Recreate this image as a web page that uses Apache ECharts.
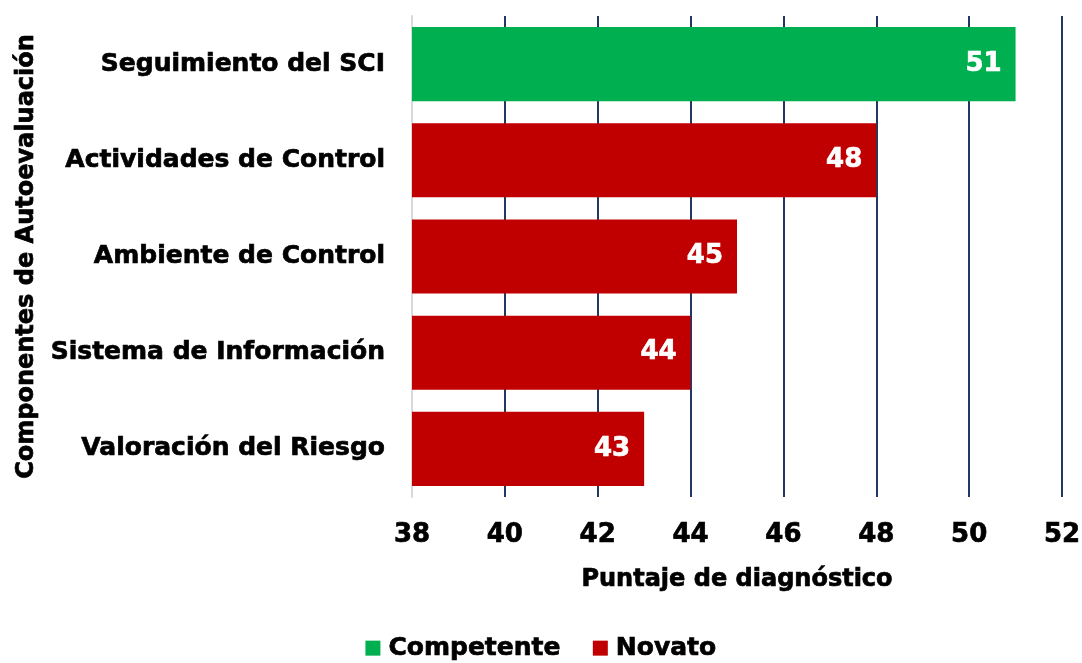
<!DOCTYPE html>
<html><head><meta charset="utf-8">
<script src="https://cdn.jsdelivr.net/npm/echarts@6/dist/echarts.min.js"></script>
<style>html,body{margin:0;padding:0;background:#fff}#c{width:1082px;height:663px}</style>
</head><body><div id="c"></div>
<script>
const categories = ["Seguimiento del SCI","Actividades de Control","Ambiente de Control","Sistema de Información","Valoración del Riesgo"];
const competente = [51, null, null, null, null];
const novato = [null, 48, 45, 44, 43];
const xTicks = [38,40,42,44,46,48,50,52];
const FONT = "DejaVu Sans";
const blk = {color:'#000', fontFamily:FONT, fontWeight:'bold', textBorderColor:'#000', textBorderWidth:0.7};
const chart = echarts.init(document.getElementById('c'));
const lbl = {show:true, position:'insideRight', color:'#fff', fontFamily:FONT, fontWeight:'bold', fontSize:26, distance:14, textBorderColor:'#fff', textBorderWidth:0.7};
chart.setOption({
  animation:false,
  textStyle:{fontFamily:FONT},
  grid:{left:412, right:20, top:16, bottom:166, containLabel:false, outerBoundsMode:'none'},
  xAxis:{type:'value', min:xTicks[0], max:xTicks[xTicks.length-1], interval:2,
    axisLine:{show:false}, axisTick:{show:false},
    axisLabel:Object.assign({fontSize:26, margin:25}, blk),
    splitLine:{show:true, lineStyle:{color:'#1F3864', width:2}},
    name:'Puntaje de diagnóstico', nameLocation:'middle', nameGap:71,
    nameTextStyle:Object.assign({fontSize:24}, blk)},
  yAxis:{type:'category', data:categories, inverse:true,
    axisLine:{show:true, lineStyle:{color:'#D9D9D9', width:2}}, axisTick:{show:false},
    axisLabel:Object.assign({fontSize:25, margin:27}, blk),
    name:'Componentes de Autoevaluación', nameLocation:'middle', nameGap:366, nameRotate:90,
    nameTextStyle:Object.assign({fontSize:24}, blk)},
  legend:{bottom:-3, left:'center', itemWidth:15, itemHeight:15, itemGap:32, icon:'rect',
    textStyle:Object.assign({fontSize:25, padding:[0,0,0,3]}, blk)},
  series:[
    {name:'Competente', type:'bar', stack:'s', data:competente, itemStyle:{color:'#00B050'}, barCategoryGap:'23%', label:lbl},
    {name:'Novato', type:'bar', stack:'s', data:novato, itemStyle:{color:'#C00000'}, barCategoryGap:'23%', label:lbl}
  ]
});
</script></body></html>
